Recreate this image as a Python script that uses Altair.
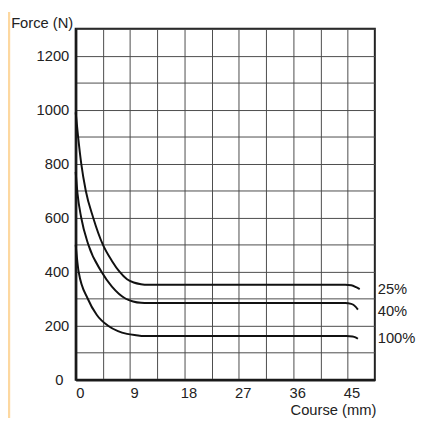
import altair as alt
import pandas as pd

# Curve data (Course in mm, Force in N)
x25 = [0, 0.4, 0.92, 1.67, 2.9, 4.5, 6.0, 7.25, 8.5, 9.6, 10.8, 12.0, 44.6, 45.6, 46.4, 47.0]
y25 = [990, 900, 800, 700, 600, 500, 440, 400, 372, 360, 354, 352, 352, 350, 343, 336]

x40 = [0, 0.3, 0.92, 2.1, 4.27, 6.0, 8.3, 9.5, 10.8, 12.0, 44.6, 45.6, 46.3, 46.7]
y40 = [770, 690, 600, 500, 400, 345, 300, 290, 285, 284, 284, 281, 271, 260]

x100 = [0, 0.49, 2.0, 3.5, 5.36, 7.0, 8.5, 10.0, 11.3, 44.8, 45.8, 46.3, 46.7]
y100 = [500, 400, 300, 240, 200, 180, 170, 165, 162, 162, 160, 157, 152]

series_names = ["25%", "40%", "100%"]
label_y = [334, 255, 154]

x_grid = [i * 4.5 for i in range(12)]   # 0 .. 49.5
y_grid = list(range(0, 1400, 100))      # 0 .. 1300

rows = []
for name, xs, ys in zip(series_names, [x25, x40, x100], [y25, y40, y100]):
    for a, b in zip(xs, ys):
        rows.append({"series": name, "course": a, "force": b})
df = pd.DataFrame(rows)

lab_df = pd.DataFrame({"series": series_names, "force": label_y, "course": [49.5] * 3})

FONT = "Liberation Sans"
TXT = "#222222"

xscale = alt.Scale(domain=[0, 49.5], nice=False, zero=False)
yscale = alt.Scale(domain=[0, 1300], nice=False)

xaxis = alt.Axis(
    values=x_grid,
    format="d",
    labelExpr="datum.value % 9 == 0 ? datum.label : ''",
    ticks=False,
    labelPadding=6,
    labelOffset={"condition": {"test": "datum.value == 0", "value": 0}, "value": 4},
    labelFont=FONT, labelFontSize=15, labelColor=TXT,
    labelOverlap=False,
    title="Course (mm)", titleFont=FONT, titleFontSize=15, titleFontWeight="normal",
    titleColor=TXT, titleAlign="right", titleAnchor="end", titleX=306, titleY=35,
    titleBaseline="alphabetic",
    grid=True, gridColor="#4a4a4a", gridWidth=1,
    domainColor="#1a1a1a", domainWidth=2.5,
)
yaxis = alt.Axis(
    values=y_grid,
    format="d",
    labelExpr="datum.value % 200 == 0 && datum.value <= 1200 ? datum.label : ''",
    ticks=False,
    labelPadding={"condition": {"test": "datum.value == 0", "value": 13}, "value": 7},
    labelFont=FONT, labelFontSize=15, labelColor=TXT,
    labelOverlap=False,
    title="Force (N)", titleFont=FONT, titleFontSize=15, titleFontWeight="normal",
    titleColor=TXT, titleAngle=0, titleAlign="right", titleX=-3, titleY=-1,
    titleBaseline="alphabetic",
    grid=True, gridColor="#4a4a4a", gridWidth=1,
    domainColor="#1a1a1a", domainWidth=2.5,
)

lines = alt.Chart(df).mark_line(interpolate="monotone", color="#111111", strokeWidth=2).encode(
    x=alt.X("course:Q", scale=xscale, axis=xaxis),
    y=alt.Y("force:Q", scale=yscale, axis=yaxis),
    detail="series:N",
)

labels = alt.Chart(lab_df).mark_text(
    align="left", baseline="middle", dx=3, font=FONT, fontSize=15, color=TXT, clip=False
).encode(
    x=alt.X("course:Q", scale=xscale, axis=xaxis),
    y=alt.Y("force:Q", scale=yscale, axis=yaxis),
    text="series:N",
)

edge = alt.Chart(pd.DataFrame({"k": [1]})).mark_rule(color="#fdd8a0", strokeWidth=2.5).encode(
    x=alt.value(-68), y=alt.value(-17), y2=alt.value(397)
)

chart = alt.layer(edge, lines, labels).properties(
    width=305, height=358,
    autosize=alt.AutoSizeParams(type="none"),
    padding={"left": 69, "top": 17, "right": 43, "bottom": 39},
).configure_view(stroke="#1a1a1a", strokeWidth=2)

chart.save("out.html", embed_options={"renderer": "svg", "actions": False})
